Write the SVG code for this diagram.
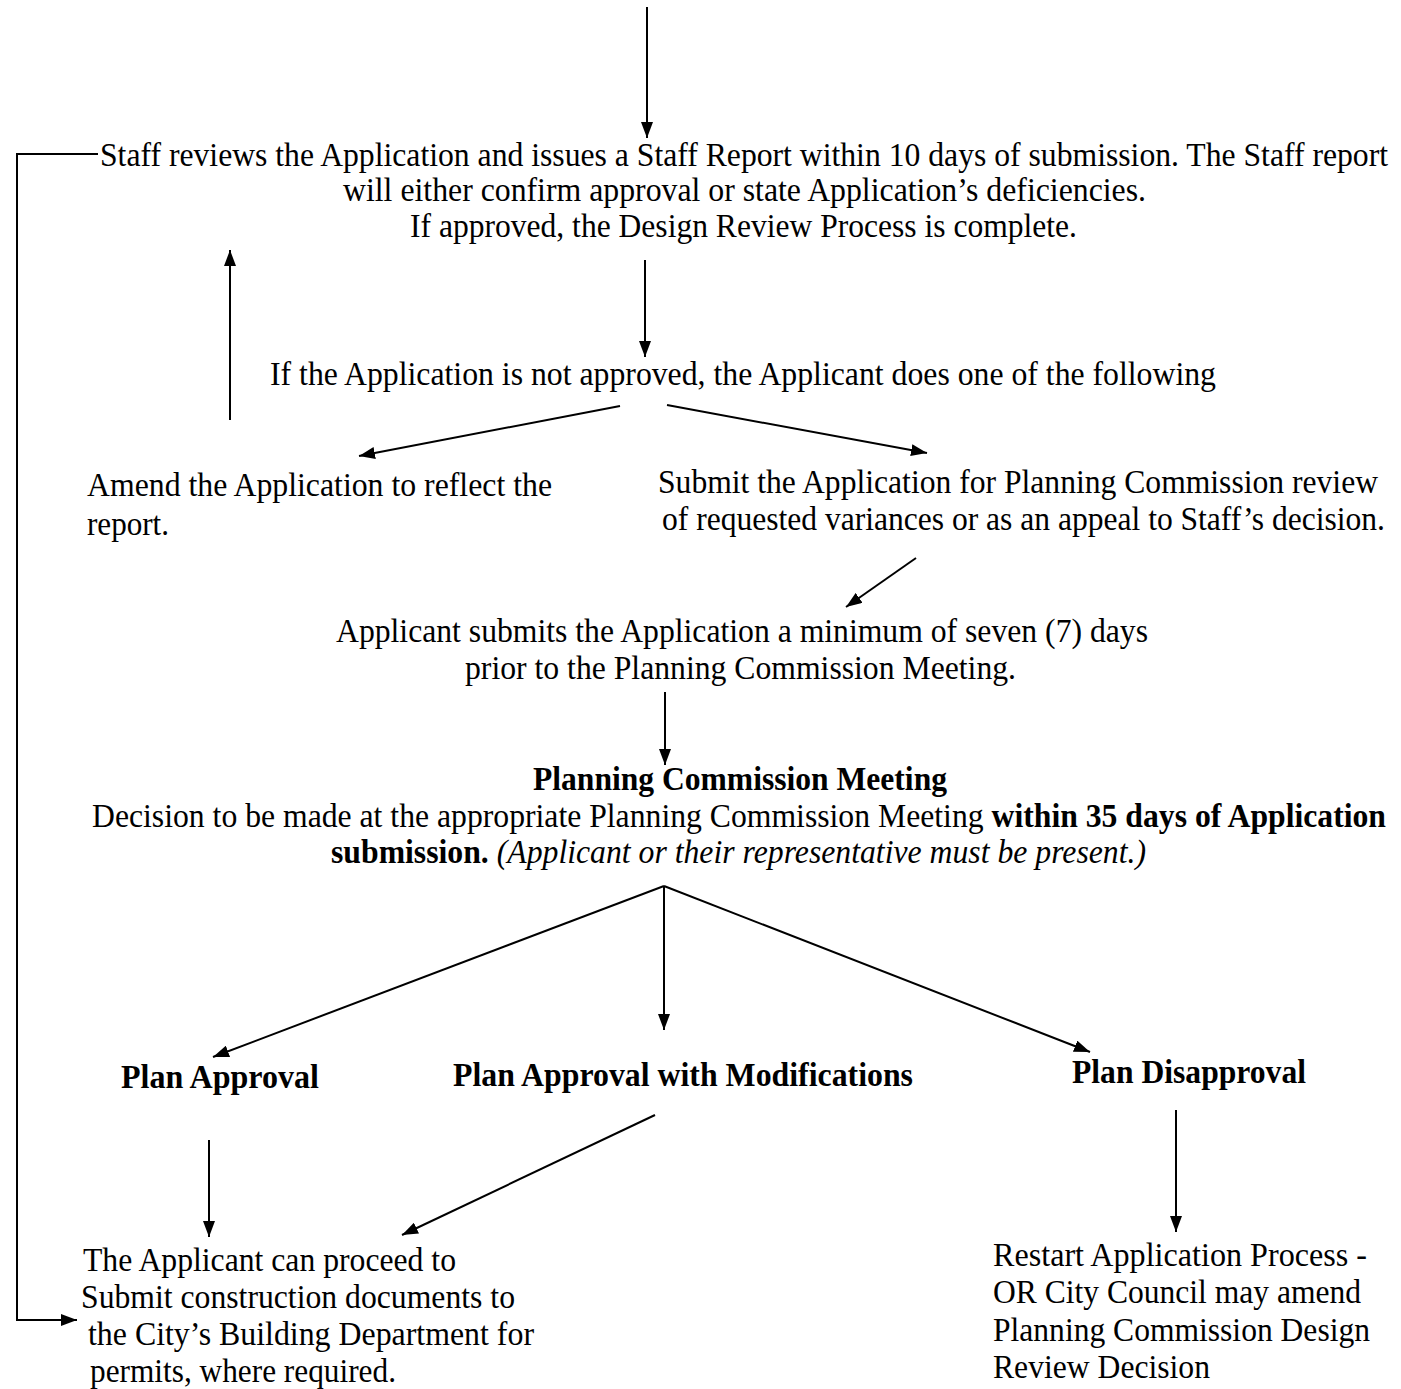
<svg xmlns="http://www.w3.org/2000/svg" width="1401" height="1389" viewBox="0 0 1401 1389">
<defs>
<marker id="ah" viewBox="0 0 16 12" refX="16" refY="6" markerWidth="16" markerHeight="12" markerUnits="userSpaceOnUse" orient="auto">
<path d="M0,0 L16,6 L0,12 z" fill="#000"/>
</marker>
<style>
text{font-family:"Liberation Serif","Times New Roman",serif;font-size:33px;fill:#000}
.b{font-weight:bold}
.i{font-style:italic}
.ln{stroke:#000;stroke-width:2;fill:none}
.ar{marker-end:url(#ah)}
</style>
</defs>
<rect width="1401" height="1389" fill="#fff"/>
<g id="connectors">
<line class="ln ar" x1="647" y1="7" x2="647" y2="138"/>
<polyline class="ln ar" points="98,154 17,154 17,1320 77,1320"/>
<line class="ln ar" x1="230" y1="420" x2="230" y2="250"/>
<line class="ln ar" x1="645" y1="260" x2="645" y2="357"/>
<line class="ln ar" x1="620" y1="406" x2="359" y2="456"/>
<line class="ln ar" x1="667" y1="405" x2="927" y2="453"/>
<line class="ln ar" x1="916" y1="558" x2="846" y2="607"/>
<line class="ln ar" x1="665" y1="692" x2="665" y2="765"/>
<line class="ln ar" x1="664" y1="886" x2="213" y2="1057"/>
<line class="ln ar" x1="664" y1="886" x2="664" y2="1030"/>
<line class="ln ar" x1="664" y1="886" x2="1090" y2="1052"/>
<line class="ln ar" x1="209" y1="1140" x2="209" y2="1237"/>
<line class="ln ar" x1="655" y1="1115" x2="402" y2="1235"/>
<line class="ln ar" x1="1176" y1="1110" x2="1176" y2="1232"/>
</g>
<g id="staff-review">
<text x="100" y="166" textLength="1288" lengthAdjust="spacingAndGlyphs">Staff reviews the Application and issues a Staff Report within 10 days of submission. The Staff report</text>
<text x="343" y="201" textLength="803" lengthAdjust="spacingAndGlyphs">will either confirm approval or state Application’s deficiencies.</text>
<text x="410" y="237" textLength="667" lengthAdjust="spacingAndGlyphs">If approved, the Design Review Process is complete.</text>
</g>
<g id="not-approved">
<text x="270" y="385" textLength="946" lengthAdjust="spacingAndGlyphs">If the Application is not approved, the Applicant does one of the following</text>
</g>
<g id="amend">
<text x="87" y="496" textLength="465" lengthAdjust="spacingAndGlyphs">Amend the Application to reflect the</text>
<text x="87" y="535" textLength="82" lengthAdjust="spacingAndGlyphs">report.</text>
</g>
<g id="submit-pc">
<text x="658" y="493" textLength="720" lengthAdjust="spacingAndGlyphs">Submit the Application for Planning Commission review</text>
<text x="662" y="530" textLength="723" lengthAdjust="spacingAndGlyphs">of requested variances or as an appeal to Staff’s decision.</text>
</g>
<g id="seven-days">
<text x="336" y="642" textLength="812" lengthAdjust="spacingAndGlyphs">Applicant submits the Application a minimum of seven (7) days</text>
<text x="465" y="679" textLength="551" lengthAdjust="spacingAndGlyphs">prior to the Planning Commission Meeting.</text>
</g>
<g id="pc-meeting">
<text class="b" x="533" y="790" textLength="414" lengthAdjust="spacingAndGlyphs">Planning Commission Meeting</text>
<text x="92" y="827" textLength="1294" lengthAdjust="spacingAndGlyphs">Decision to be made at the appropriate Planning Commission Meeting <tspan class="b">within 35 days of Application</tspan></text>
<text x="331" y="863" textLength="815" lengthAdjust="spacingAndGlyphs"><tspan class="b">submission.</tspan> <tspan class="i">(Applicant or their representative must be present.)</tspan></text>
</g>
<g id="plan-approval">
<text class="b" x="121" y="1088" textLength="198" lengthAdjust="spacingAndGlyphs">Plan Approval</text>
</g>
<g id="plan-approval-mod">
<text class="b" x="453" y="1086" textLength="460" lengthAdjust="spacingAndGlyphs">Plan Approval with Modifications</text>
</g>
<g id="plan-disapproval">
<text class="b" x="1072" y="1083" textLength="234" lengthAdjust="spacingAndGlyphs">Plan Disapproval</text>
</g>
<g id="proceed">
<text x="83" y="1271" textLength="373" lengthAdjust="spacingAndGlyphs">The Applicant can proceed to</text>
<text x="81" y="1308" textLength="434" lengthAdjust="spacingAndGlyphs">Submit construction documents to</text>
<text x="88" y="1345" textLength="446" lengthAdjust="spacingAndGlyphs">the City’s Building Department for</text>
<text x="90" y="1382" textLength="306" lengthAdjust="spacingAndGlyphs">permits, where required.</text>
</g>
<g id="restart">
<text x="993" y="1266" textLength="374" lengthAdjust="spacingAndGlyphs">Restart Application Process -</text>
<text x="993" y="1303" textLength="368" lengthAdjust="spacingAndGlyphs">OR City Council may amend</text>
<text x="993" y="1341" textLength="377" lengthAdjust="spacingAndGlyphs">Planning Commission Design</text>
<text x="993" y="1378" textLength="217" lengthAdjust="spacingAndGlyphs">Review Decision</text>
</g>
</svg>
